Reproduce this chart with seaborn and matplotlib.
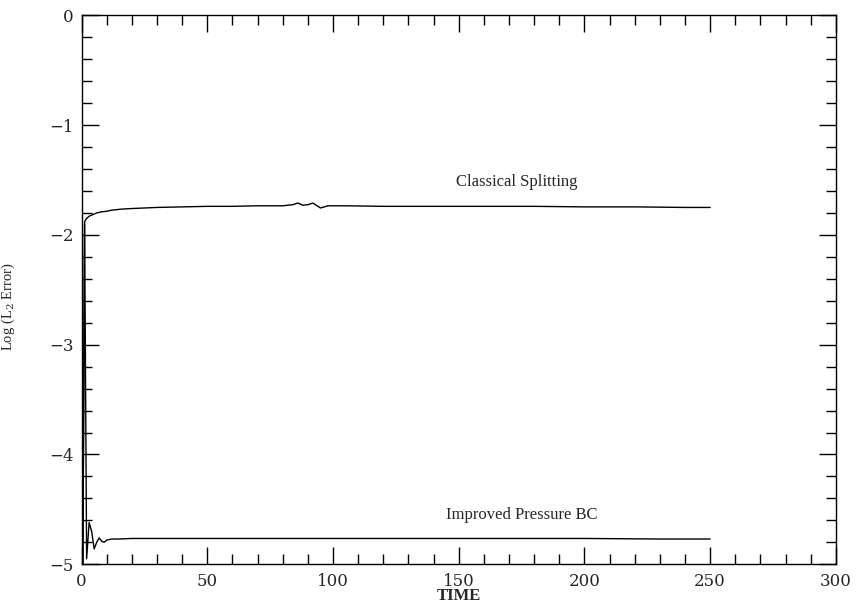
import numpy as np
import pandas as pd
import matplotlib
matplotlib.use("Agg")
import matplotlib.pyplot as plt
from matplotlib.ticker import MultipleLocator
import seaborn as sns

# -----------------------------
# data
# -----------------------------
classical_t = [0.5, 1.2, 2, 3, 4, 6, 8, 10, 12, 16, 20, 25, 30, 40, 50, 60, 70, 80,
               84, 86, 88, 90, 92, 95, 98, 105, 120, 140, 160, 180, 200, 220, 240, 250]
classical_err = [-5.0, -1.88, -1.85, -1.83, -1.82, -1.80, -1.79, -1.785, -1.775, -1.765,
                 -1.76, -1.755, -1.75, -1.745, -1.74, -1.74, -1.735, -1.735,
                 -1.725, -1.71, -1.73, -1.725, -1.71, -1.755, -1.735, -1.735, -1.74,
                 -1.74, -1.74, -1.74, -1.745, -1.745, -1.75, -1.75]

improved_t = [0.5, 1.2, 2, 3, 4, 5, 6, 7, 8, 9, 10, 12, 15, 20, 40, 80, 120, 160, 200,
              230, 250]
improved_err = [-5.0, -1.9, -4.95, -4.62, -4.7, -4.86, -4.8, -4.76, -4.79, -4.8, -4.78,
                -4.77, -4.77, -4.765, -4.765, -4.765, -4.765, -4.765, -4.765, -4.77, -4.77]

curve_labels = ["Classical Splitting", "Improved Pressure BC"]
label_pos = [(173, -1.52), (175, -4.55)]

df = pd.concat([
    pd.DataFrame({"t": classical_t, "err": classical_err, "run": curve_labels[0]}),
    pd.DataFrame({"t": improved_t, "err": improved_err, "run": curve_labels[1]}),
])

# -----------------------------
# plot
# -----------------------------
sns.set_style("ticks")
plt.rcParams['font.family'] = ['DejaVu Serif']
plt.rcParams['mathtext.fontset'] = 'dejavuserif'

fig = plt.figure(figsize=(8.68, 6.12), dpi=100)
ax = fig.add_axes([0.094, 0.078, 0.869, 0.897])

sns.lineplot(data=df, x="t", y="err", units="run", estimator=None, sort=False,
             color="black", linewidth=1.0, ax=ax, legend=False)

ax.set_xlim(0, 300)
ax.set_ylim(-5, 0)
ax.xaxis.set_major_locator(MultipleLocator(50))
ax.xaxis.set_minor_locator(MultipleLocator(10))
ax.yaxis.set_major_locator(MultipleLocator(1))
ax.yaxis.set_minor_locator(MultipleLocator(0.2))
ax.tick_params(which="both", direction="in", top=True, right=True, color="black",
               labelsize=12, pad=6)
ax.tick_params(which="major", length=12, width=1.0)
ax.tick_params(which="minor", length=7, width=1.0)
for s in ax.spines.values():
    s.set_linewidth(1.0)
    s.set_color("black")

ax.set_xlabel("TIME", fontsize=12, labelpad=-1, family="Liberation Serif",
              fontweight="bold")
ax.set_ylabel(r"Log (L$_2$ Error)", fontsize=10.5, family="Liberation Serif")
ax.yaxis.set_label_coords(-0.085, 0.47)

for lab, (x, y) in zip(curve_labels, label_pos):
    ax.text(x, y, lab, ha="center", va="center", fontsize=12,
            family="Liberation Serif")

# the last x tick label is in a plain sans face in the original
fig.canvas.draw()
xt = ax.get_xticklabels()
xt[-1].set_family("DejaVu Sans")
xt[-1].set_color("#333333")

fig.savefig("out.png", dpi=100)
